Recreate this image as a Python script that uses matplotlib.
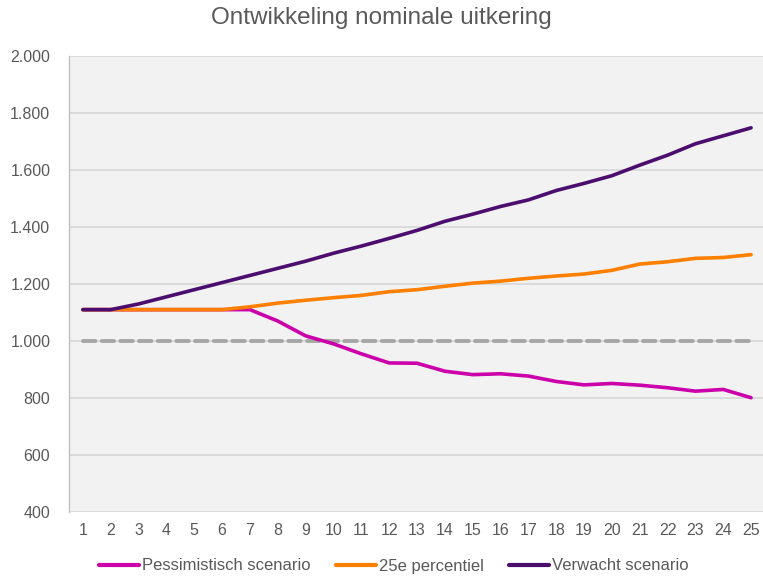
import matplotlib
matplotlib.use("Agg")
import matplotlib.pyplot as plt

plt.rcParams['font.family'] = ['Liberation Sans', 'DejaVu Sans']

years = list(range(1, 26))
pessimistisch = [1110, 1110, 1110, 1110, 1110, 1110, 1110, 1070, 1018, 990, 955, 923, 922, 894, 882, 885, 877, 858, 846, 851, 845, 836, 824, 830, 801]
percentiel25 = [1110, 1110, 1110, 1110, 1110, 1110, 1120, 1133, 1143, 1152, 1160, 1173, 1180, 1192, 1203, 1210, 1220, 1228, 1235, 1248, 1270, 1278, 1290, 1293, 1303]
verwacht = [1110, 1110, 1130, 1155, 1180, 1205, 1230, 1255, 1280, 1308, 1333, 1360, 1388, 1420, 1445, 1472, 1495, 1528, 1553, 1580, 1617, 1652, 1692, 1720, 1748]
referentie = [1000] * 25
y_ticks = [400, 600, 800, 1000, 1200, 1400, 1600, 1800, 2000]
y_labels = ["400", "600", "800", "1.000", "1.200", "1.400", "1.600", "1.800", "2.000"]
series_names = ["Pessimistisch scenario", "25e percentiel", "Verwacht scenario"]
title = "Ontwikkeling nominale uitkering"

text_color = "#595959"
fig = plt.figure(figsize=(7.63, 5.76), dpi=100)
ax = fig.add_axes([69/763, 1-512/576, (765-69)/763, (512-56)/576])
ax.set_facecolor("#F2F2F2")

ax.plot(years, referentie, color="#A6A6A6", lw=2.8, ls=(0, (3.2, 1.6)), dash_capstyle='round', zorder=2)
ax.plot(years, pessimistisch, color="#CC00AA", lw=2.6, label=series_names[0], zorder=3, solid_capstyle='round')
ax.plot(years, percentiel25, color="#FF8000", lw=2.6, label=series_names[1], zorder=3, solid_capstyle='round')
ax.plot(years, verwacht, color="#4B0D6E", lw=2.6, label=series_names[2], zorder=4, solid_capstyle='round')

ax.set_xlim(0.5, 25.5)
ax.set_ylim(400, 2000)
ax.set_yticks(y_ticks)
ax.set_yticklabels(y_labels)
ax.set_xticks(years)
ax.set_xticklabels([str(y) for y in years])
ax.grid(axis='y', color="#D9D9D9", lw=1.3)
ax.set_axisbelow(True)
for s in ['top', 'right', 'bottom']:
    ax.spines[s].set_visible(False)
ax.spines['left'].set_color("#BFBFBF")
ax.spines['left'].set_linewidth(1.0)
ax.tick_params(axis='both', length=0, labelsize=11.5, colors=text_color)
ax.tick_params(axis='y', pad=13.5)
ax.tick_params(axis='x', pad=8)

fig.text(0.5, 1-18/576, title, ha='center', va='center', fontsize=17.5, color=text_color)

handles, labels = ax.get_legend_handles_labels()
leg = fig.legend(handles, labels, loc='center', bbox_to_anchor=(0.516, 1-566/576), ncol=3,
                 frameon=False, fontsize=12, handlelength=2.4, handletextpad=0.15, columnspacing=1.55)
for t in leg.get_texts():
    t.set_color(text_color)
for l in leg.get_lines():
    l.set_linewidth(3)

fig.savefig("out.png", dpi=100, facecolor="white")
